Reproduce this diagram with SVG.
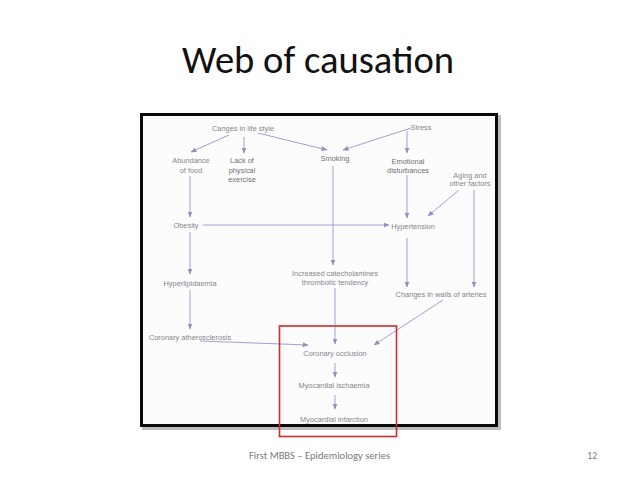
<svg xmlns="http://www.w3.org/2000/svg" width="638" height="479" viewBox="0 0 638 479">
<defs>
<marker id="ah" markerUnits="userSpaceOnUse" markerWidth="6" markerHeight="5" refX="5.5" refY="2.5" orient="auto">
<path d="M0,0 L6,2.5 L0,5 z" fill="#8e90c8"/>
</marker>
</defs>
<style>
.t{font-family:"Liberation Sans",Arial,sans-serif;font-size:7.4px;fill:#85858c;text-anchor:middle}
.d{fill:#6e6e76}
.c{fill:none;stroke:#9fa1d2;stroke-width:1;marker-end:url(#ah)}
</style>
<rect width="638" height="479" fill="#ffffff"/>
<text x="318" y="73" font-family="Carlito,'Open Sans','Liberation Sans',sans-serif" font-size="38" fill="#111" text-anchor="middle" textLength="272" lengthAdjust="spacingAndGlyphs">Web of causation</text>
<g id="frame">
<rect x="143.5" y="116.5" width="356" height="312" fill="none" stroke="#bdbdbd" stroke-width="3"/>
<rect x="141.5" y="114.5" width="355" height="311" fill="#fdfcfc" stroke="#0a0a0a" stroke-width="3"/>
</g>
<g id="connectors">
<line class="c" x1="229" y1="135" x2="191" y2="152"/>
<line class="c" x1="244" y1="137" x2="244" y2="153"/>
<line class="c" x1="258" y1="133" x2="327" y2="150"/>
<line class="c" x1="411" y1="128" x2="343" y2="150"/>
<line class="c" x1="407" y1="131" x2="407" y2="153"/>
<line class="c" x1="190" y1="176" x2="190" y2="217"/>
<line class="c" x1="203" y1="225" x2="389" y2="225"/>
<line class="c" x1="407" y1="175" x2="407" y2="218"/>
<line class="c" x1="459" y1="190" x2="428" y2="216"/>
<line class="c" x1="333" y1="166" x2="333" y2="265"/>
<line class="c" x1="190" y1="232" x2="190" y2="274"/>
<line class="c" x1="407" y1="238" x2="407" y2="287"/>
<line class="c" x1="474" y1="190" x2="474" y2="287"/>
<line class="c" x1="190" y1="290" x2="190" y2="329"/>
<line class="c" x1="200" y1="341" x2="308" y2="345"/>
<line class="c" x1="335" y1="288" x2="335" y2="344"/>
<line class="c" x1="443" y1="300" x2="374" y2="345"/>
<line class="c" x1="335" y1="363" x2="335" y2="377"/>
<line class="c" x1="335" y1="395" x2="335" y2="409"/>
</g>
<g id="n-lifestyle"><text class="t" x="243" y="130.5">Canges in life style</text></g>
<g id="n-stress"><text class="t" x="421" y="129.5">Stress</text></g>
<g id="n-abundance"><text class="t" x="191" y="162.5">Abundance</text><text class="t" x="191" y="172.5">of food</text></g>
<g id="n-lack"><text class="t d" x="242" y="163">Lack of</text><text class="t d" x="242" y="172.5">physical</text><text class="t d" x="242" y="182">exercise</text></g>
<g id="n-smoking"><text class="t d" x="335" y="160.5">Smoking</text></g>
<g id="n-emotional"><text class="t d" x="408" y="163.5">Emotional</text><text class="t d" x="408" y="172.5">disturbances</text></g>
<g id="n-aging"><text class="t" x="470" y="177.5">Aging and</text><text class="t" x="470" y="186">other factors</text></g>
<g id="n-obesity"><text class="t" x="186" y="227.5">Obesity</text></g>
<g id="n-hypertension"><text class="t" x="413" y="229">Hypertension</text></g>
<g id="n-hyperlipidaemia"><text class="t" x="190" y="285.5">Hyperlipidaemia</text></g>
<g id="n-catecholamines"><text class="t" x="335" y="275.5">Increased catecholamines</text><text class="t" x="335" y="284.5">thrombotic tendency</text></g>
<g id="n-changes"><text class="t" x="441" y="296.5">Changes in walls of arteries</text></g>
<g id="n-atherosclerosis"><text class="t" x="190" y="339.5">Coronary atherosclerosis</text></g>
<g id="n-occlusion"><text class="t" x="335" y="355.5">Coronary occlusion</text></g>
<g id="n-ischaemia"><text class="t" x="334" y="387.5">Myocardial ischaemia</text></g>
<g id="n-infarction"><text class="t" x="334" y="421.5">Myocardial infarction</text></g>
<rect id="highlight" x="279.5" y="326" width="117" height="110.5" fill="none" stroke="#d42a2a" stroke-width="1.6"/>
<text x="249" y="459" font-family="Carlito,'Open Sans','Liberation Sans',sans-serif" font-size="9.5" fill="#7a7a7a" textLength="141" lengthAdjust="spacingAndGlyphs">First MBBS – Epidemiology series</text>
<text x="597" y="459" font-family="Carlito,'Open Sans','Liberation Sans',sans-serif" font-size="9.5" fill="#7a7a7a" text-anchor="end">12</text>
</svg>
